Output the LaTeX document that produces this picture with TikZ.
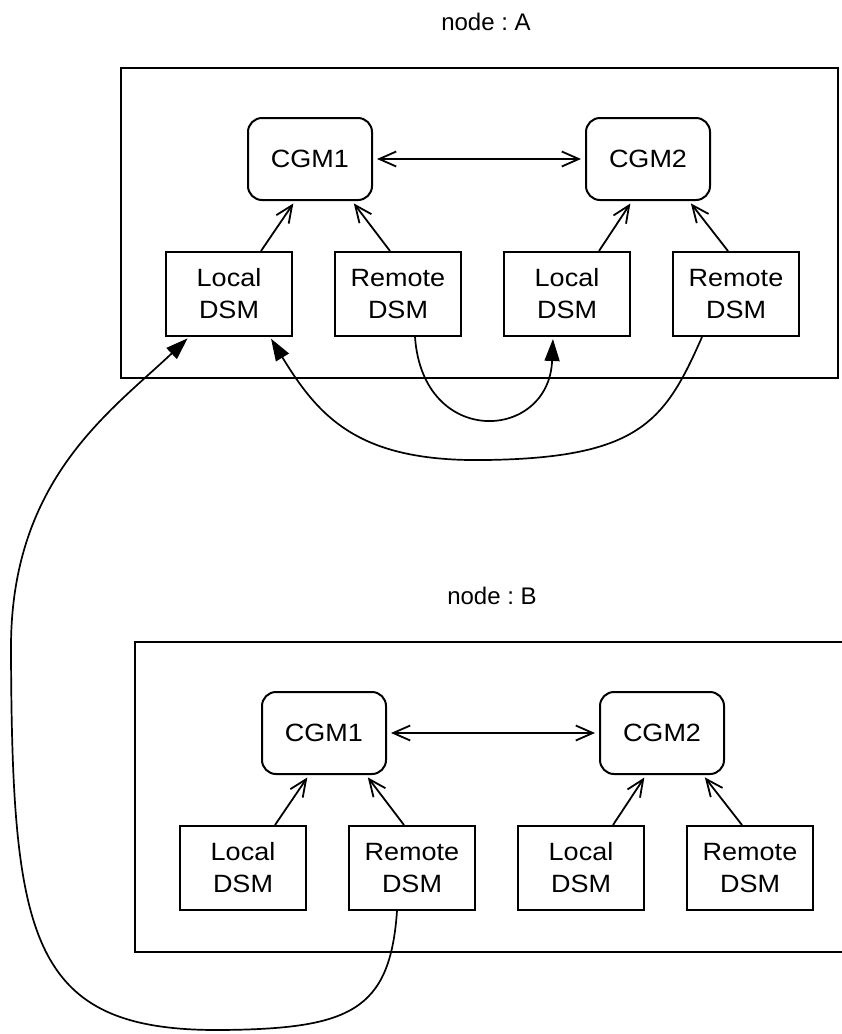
\documentclass[tikz,border=0pt]{standalone}
\usepackage{fontspec}
\setmainfont{Liberation Sans}
\newfontfamily\boxfont{Liberation Sans}[FakeStretch=1.08]
\usepackage{tikz}
\usetikzlibrary{arrows.meta,positioning}
\tikzset{
    host/.style={draw, line width=2pt, minimum width=717pt, minimum height=310pt, inner sep=0pt},
    cgm/.style={draw, line width=2pt, rounded corners=14pt, minimum width=124pt, minimum height=82pt, inner sep=0pt,
                font=\boxfont\fontsize{25}{32}\selectfont},
    dsm/.style={draw, line width=2pt, minimum width=126pt, minimum height=84pt, align=center, inner sep=0pt,
                font=\boxfont\fontsize{25}{32}\selectfont},
    feed/.style={line width=1.8pt, -{Straight Barb[length=17pt,width=15pt]}, shorten >=3pt},
    sync/.style={line width=1.8pt, {Straight Barb[length=17pt,width=15pt]}-{Straight Barb[length=17pt,width=15pt]}, shorten <=4pt, shorten >=4pt},
    fetch/.style={line width=1.7pt, -{Triangle[length=22pt,width=15pt]}, shorten >=2pt},
    title/.style={inner sep=0pt, font=\fontsize{24}{30}\selectfont},
}

\begin{document}
\frenchspacing
\begin{tikzpicture}[x=1pt, y=-1pt]
    \useasboundingbox (0,0) rectangle (842,1034);

    % Host A
    \node[title] (tA) at (486,22) {node : A};
    \node[host] (hA) at (479.5,223) {};
    \node[cgm] (CA1) at (310,159) {CGM1};
    \node[cgm] (CA2) at (648,159) {CGM2};
    \node[dsm] (LA1) at (229,294) {Local\\DSM};
    \node[dsm] (RA1) at (398,294) {Remote\\DSM};
    \node[dsm] (LA2) at (567,294) {Local\\DSM};
    \node[dsm] (RA2) at (736,294) {Remote\\DSM};

    \draw[sync] (CA1) -- (CA2);
    \draw[feed] ([xshift=32pt]LA1.north) -- ([xshift=-15pt]CA1.south);
    \draw[feed] ([xshift=-8pt]RA1.north) -- ([xshift=42pt]CA1.south);
    \draw[feed] ([xshift=32pt]LA2.north) -- ([xshift=-16pt]CA2.south);
    \draw[feed] ([xshift=-8pt]RA2.north) -- ([xshift=41pt]CA2.south);

    % Host B
    \node[title] (tB) at (492,596) {node : B};
    \node[host] (hB) at (493.5,797) {};
    \node[cgm] (CB1) at (324,733) {CGM1};
    \node[cgm] (CB2) at (662,733) {CGM2};
    \node[dsm] (LB1) at (243,868) {Local\\DSM};
    \node[dsm] (RB1) at (412,868) {Remote\\DSM};
    \node[dsm] (LB2) at (581,868) {Local\\DSM};
    \node[dsm] (RB2) at (750,868) {Remote\\DSM};

    \draw[sync] (CB1) -- (CB2);
    \draw[feed] ([xshift=32pt]LB1.north) -- ([xshift=-15pt]CB1.south);
    \draw[feed] ([xshift=-8pt]RB1.north) -- ([xshift=42pt]CB1.south);
    \draw[feed] ([xshift=32pt]LB2.north) -- ([xshift=-16pt]CB2.south);
    \draw[feed] ([xshift=-8pt]RB2.north) -- ([xshift=41pt]CB2.south);

    % Remote DSM to Local DSM
    \draw[fetch] ([xshift=17pt]RA1.south) .. controls +(8,112) and +(-4,104) .. ([xshift=-14pt]LA2.south);
    \draw[fetch] ([xshift=-34pt]RA2.south) .. controls +(-37,84) and +(155,-2) .. (485,460)
        .. controls (360,462) and +(50,82) .. ([xshift=41pt]LA1.south);
    \draw[fetch] ([xshift=-15pt]RB1.south) .. controls +(-7,100) and +(130,-1) .. (220,1030)
        .. controls (30,1031) and (12,940) .. (11,650)
        .. controls (10,480) and +(-79,75) .. ([xshift=-40pt]LA1.south);
\end{tikzpicture}
\end{document}
